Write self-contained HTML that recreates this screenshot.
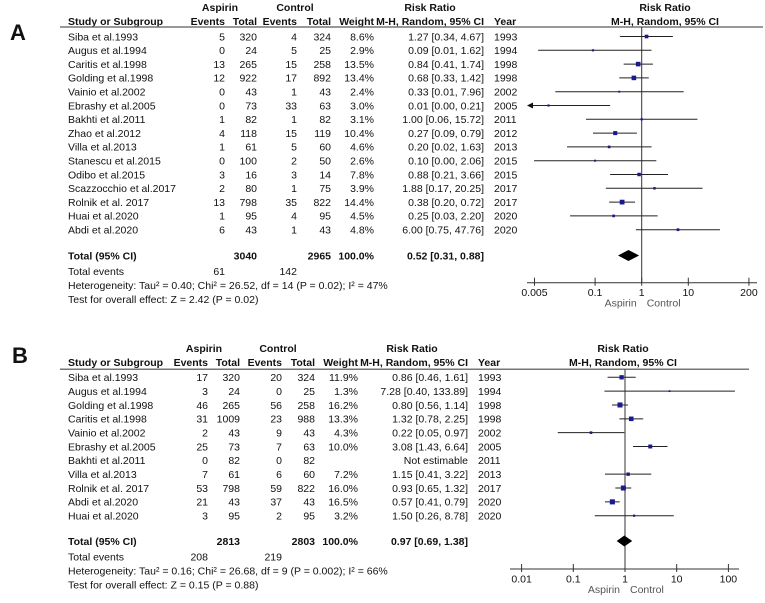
<!DOCTYPE html>
<html><head><meta charset="utf-8"><style>
html,body{margin:0;padding:0;background:#fff;}
svg{display:block;font-family:"Liberation Sans",Arial,sans-serif;}
</style></head><body>
<svg id="fig" width="765" height="603" viewBox="0 0 765 603"></svg>
<script>
// ---------- Panel A data ----------
const aStudies=["Siba et al.1993","Augus et al.1994","Caritis et al.1998","Golding et al.1998","Vainio et al.2002","Ebrashy et al.2005","Bakhti et al.2011","Zhao et al.2012","Villa et al.2013","Stanescu et al.2015","Odibo et al.2015","Scazzocchio et al.2017","Rolnik et al. 2017","Huai et al.2020","Abdi et al.2020"];
const aAspEvents=[5,0,13,12,0,0,1,4,1,0,3,2,13,1,6];
const aAspTotal=[320,24,265,922,43,73,82,118,61,100,16,80,798,95,43];
const aCtlEvents=[4,5,15,17,1,33,1,15,5,2,3,1,35,4,1];
const aCtlTotal=[324,25,258,892,43,63,82,119,60,50,14,75,822,95,43];
const aWeights=[8.6,2.9,13.5,13.4,2.4,3.0,3.1,10.4,4.6,2.6,7.8,3.9,14.4,4.5,4.8];
const aRR=[1.27,0.09,0.84,0.68,0.33,0.01,1.00,0.27,0.20,0.10,0.88,1.88,0.38,0.25,6.00];
const aLo=[0.34,0.01,0.41,0.33,0.01,0.00,0.06,0.09,0.02,0.00,0.21,0.17,0.20,0.03,0.75];
const aLoExact=[0.34,0.006,0.41,0.33,0.014,0.0005,0.064,0.09,0.025,0.0049,0.21,0.17,0.20,0.029,0.75];
const aHi=[4.67,1.62,1.74,1.42,7.96,0.21,15.72,0.79,1.63,2.06,3.66,20.25,0.72,2.20,47.76];
const aYears=[1993,1994,1998,1998,2002,2005,2011,2012,2013,2015,2015,2017,2017,2020,2020];
const aTotal={rr:0.52,lo:0.31,hi:0.88,asp:3040,ctl:2965,aspEv:61,ctlEv:142};
const aTicks=[0.005,0.1,1,10,200];
const aTickLabels=["0.005","0.1","1","10","200"];
// ---------- Panel B data ----------
const bStudies=["Siba et al.1993","Augus et al.1994","Golding et al.1998","Caritis et al.1998","Vainio et al.2002","Ebrashy et al.2005","Bakhti et al.2011","Villa et al.2013","Rolnik et al. 2017","Abdi et al.2020","Huai et al.2020"];
const bAspEvents=[17,3,46,31,2,25,0,7,53,21,3];
const bAspTotal=[320,24,265,1009,43,73,82,61,798,43,95];
const bCtlEvents=[20,0,56,23,9,7,0,6,59,37,2];
const bCtlTotal=[324,25,258,988,43,63,82,60,822,43,95];
const bWeights=[11.9,1.3,16.2,13.3,4.3,10.0,null,7.2,16.0,16.5,3.2];
const bRR=[0.86,7.28,0.80,1.32,0.22,3.08,null,1.15,0.93,0.57,1.50];
const bLo=[0.46,0.40,0.56,0.78,0.05,1.43,null,0.41,0.65,0.41,0.26];
const bLoExact=[0.46,0.40,0.56,0.78,0.05,1.43,null,0.41,0.65,0.41,0.26];
const bHi=[1.61,133.89,1.14,2.25,0.97,6.64,null,3.22,1.32,0.79,8.78];
const bYears=[1993,1994,1998,1998,2002,2005,2011,2013,2017,2020,2020];
const bTotal={rr:0.97,lo:0.69,hi:1.38,asp:2813,ctl:2803,aspEv:208,ctlEv:219};
const bTicks=[0.01,0.1,1,10,100];
const bTickLabels=["0.01","0.1","1","10","100"];

const NS="http://www.w3.org/2000/svg";
const svg=document.getElementById('fig');
function el(tag,attrs,parent){const e=document.createElementNS(NS,tag);for(const k in attrs)e.setAttribute(k,attrs[k]);(parent||svg).appendChild(e);return e;}
function txt(s,x,y,anchor,bold,parent,size){const t=el('text',{x:x,y:y,'font-size':size||10.5,'text-anchor':anchor||'start',fill:'#111','font-weight':bold?'bold':'normal'},parent);t.textContent=s;return t;}
function f2(v){return v.toFixed(2);}

function panel(cfg){
  const g=el('g',{});
  
  
  const P=cfg.pos;
  const lab=txt(cfg.letter,P.letterX,P.letterY,'start',true,g,22);
  
  
  const hg=el('g',{},g);
  
  
  const h1=P.hy, h2=P.hy+14;
  txt('Aspirin',P.aspHead,h1,'middle',true,hg);
  txt('Control',P.ctlHead,h1,'middle',true,hg);
  txt('Risk Ratio',P.rrHead,h1,'middle',true,hg);
  txt('Risk Ratio',P.plotHead,h1,'middle',true,hg);
  txt('Study or Subgroup',P.study,h2,'start',true,hg);
  txt('Events',P.c1,h2,'end',true,hg);
  txt('Total',P.c2,h2,'end',true,hg);
  txt('Events',P.c3,h2,'end',true,hg);
  txt('Total',P.c4,h2,'end',true,hg);
  txt('Weight',P.c5,h2,'end',true,hg);
  txt('M-H, Random, 95% CI',P.c6,h2,'end',true,hg);
  txt('Year',P.yearX,h2,'start',true,hg);
  txt('M-H, Random, 95% CI',P.plotHead,h2,'middle',true,hg);
  el('line',{x1:P.lineX1,x2:P.lineX2,y1:P.lineY,y2:P.lineY,stroke:'#777','stroke-width':1.5},g);
  const xs=v=>P.one+Math.log10(v)*P.dec;
  const rowY=i=>P.row0+i*P.rowH;
  const vl=el('line',{x1:xs(1),x2:xs(1),y1:P.lineY,y2:P.axisY,stroke:'#333','stroke-width':1},g);
  
  
  const D=cfg.data;
  for(let i=0;i<D.studies.length;i++){
    const y=rowY(i), b=y+3.8;
    const rg=el('g',{},g);
    
    
    txt(D.studies[i],P.study,b,'start',false,rg);
    txt(String(D.aspE[i]),P.c1,b,'end',false,rg);
    txt(String(D.aspT[i]),P.c2,b,'end',false,rg);
    txt(String(D.ctlE[i]),P.c3,b,'end',false,rg);
    txt(String(D.ctlT[i]),P.c4,b,'end',false,rg);
    if(D.w[i]!=null) txt(D.w[i].toFixed(1)+'%',P.c5,b,'end',false,rg);
    if(D.rr[i]!=null) txt(f2(D.rr[i])+' ['+f2(D.lo[i])+', '+f2(D.hi[i])+']',P.c6,b,'end',false,rg);
    else txt('Not estimable',P.c6,b,'end',false,rg);
    txt(String(D.yr[i]),P.yearX,b,'start',false,rg);
    if(D.rr[i]==null) continue;
    let x1, arrow=false;
    const lo=D.loX[i];
    if(lo<=0 || xs(lo)<P.axX1){x1=P.axX1+1;arrow=true;} else x1=xs(lo);
    const x2=Math.min(xs(D.hi[i]),P.axX2);
    const ci=el('line',{x1:x1,x2:x2,y1:y,y2:y,stroke:'#222','stroke-width':1},g);
    
    
    if(arrow){
      const ar=el('polygon',{points:`${x1-1},${y} ${x1+5},${y-3} ${x1+5},${y+3}`,fill:'#111'},g);
      
      
    }
    const s=Math.max(1.8,Math.sqrt(D.w[i])*1.25);
    const sq=el('rect',{x:xs(D.rr[i])-s/2,y:y-s/2,width:s,height:s,fill:'#1a1a8f'},g);
    
    
  }
  const T=cfg.total;
  const tb=P.totY+3.8;
  const tg=el('g',{},g);
  
  
  txt('Total (95% CI)',P.study,tb,'start',true,tg);
  txt(String(T.asp),P.c2,tb,'end',true,tg);
  txt(String(T.ctl),P.c4,tb,'end',true,tg);
  txt('100.0%',P.c5,tb,'end',true,tg);
  txt(f2(T.rr)+' ['+f2(T.lo)+', '+f2(T.hi)+']',P.c6,tb,'end',true,tg);
  const dm=el('polygon',{points:`${xs(T.lo)},${P.totY} ${xs(T.rr)},${P.totY-5.5} ${xs(T.hi)},${P.totY} ${xs(T.rr)},${P.totY+5.5}`,fill:'#000'},g);
  
  
  txt('Total events',P.study,P.totY+19.5,'start',false,g);
  txt(String(T.aspEv),P.c1,P.totY+19.5,'end',false,g);
  txt(String(T.ctlEv),P.c3,P.totY+19.5,'end',false,g);
  const het=txt(cfg.het,P.study,P.totY+33.5,'start',false,g);
  
  
  const ov=txt(cfg.test,P.study,P.totY+47.5,'start',false,g);
  
  
  const ag=el('g',{},g);
  
  
  el('line',{x1:P.axX1,x2:P.axX2,y1:P.axisY,y2:P.axisY,stroke:'#333','stroke-width':1},ag);
  cfg.ticks.forEach((t,k)=>{
    const x=xs(t);
    el('line',{x1:x,x2:x,y1:P.axisY-5,y2:P.axisY+3,stroke:'#333','stroke-width':1},ag);
    const tl=txt(cfg.tickLabels[k],x,P.axisY+13.5,'middle',false,ag);
    
    
  });
  const fa=txt('Aspirin',xs(1)-5,P.axisY+24,'end',false,ag);
  fa.setAttribute('fill','#555');
  
  
  const fc=txt('Control',xs(1)+5,P.axisY+24,'start',false,ag);
  fc.setAttribute('fill','#555');
  
  
}

panel({name:'panel-a',letter:'A',
  data:{studies:aStudies,aspE:aAspEvents,aspT:aAspTotal,ctlE:aCtlEvents,ctlT:aCtlTotal,w:aWeights,rr:aRR,lo:aLo,loX:aLoExact,hi:aHi,yr:aYears},
  total:aTotal,ticks:aTicks,tickLabels:aTickLabels,
  het:'Heterogeneity: Tau² = 0.40; Chi² = 26.52, df = 14 (P = 0.02); I² = 47%',
  test:'Test for overall effect: Z = 2.42 (P = 0.02)',
  pos:{letterX:10,letterY:40,hy:11,study:68,c1:225,c2:257,c3:297,c4:331,c5:374,c6:484,yearX:494,
    aspHead:220,ctlHead:295,rrHead:430,plotHead:665,lineX1:60,lineX2:763,lineY:27,
    row0:36.5,rowH:13.8,totY:255.5,axisY:282.7,axX1:527,axX2:757,one:641.7,dec:46.6}});

panel({name:'panel-b',letter:'B',
  data:{studies:bStudies,aspE:bAspEvents,aspT:bAspTotal,ctlE:bCtlEvents,ctlT:bCtlTotal,w:bWeights,rr:bRR,lo:bLo,loX:bLoExact,hi:bHi,yr:bYears},
  total:bTotal,ticks:bTicks,tickLabels:bTickLabels,
  het:'Heterogeneity: Tau² = 0.16; Chi² = 26.68, df = 9 (P = 0.002); I² = 66%',
  test:'Test for overall effect: Z = 0.15 (P = 0.88)',
  pos:{letterX:12,letterY:363,hy:352,study:68,c1:208,c2:240,c3:282,c4:315,c5:358,c6:468,yearX:478,
    aspHead:204,ctlHead:278,rrHead:412,plotHead:623,lineX1:60,lineX2:749,lineY:369.3,
    row0:377.3,rowH:13.84,totY:541,axisY:569,axX1:510,axX2:739,one:625,dec:51.7}});
</script>
</body></html>
